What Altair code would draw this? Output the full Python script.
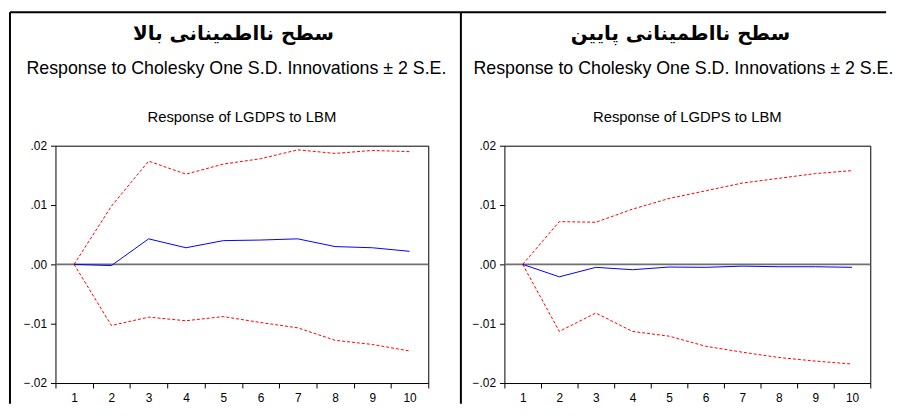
import altair as alt
import pandas as pd

horizons = list(range(1, 11))
y_ticks = [-0.02, -0.01, 0.0, 0.01, 0.02]

title_high = "سطح نااطمینانی بالا"
title_low = "سطح نااطمینانی پایین"
subtitle = "Response to Cholesky One S.D. Innovations ± 2 S.E."
chart_title = "Response of LGDPS to LBM"

high_resp = [0.0, -0.0002, 0.0043, 0.0028, 0.0040, 0.0041, 0.0043, 0.0030, 0.0028, 0.0022]
high_upper = [0.0, 0.0098, 0.0174, 0.0152, 0.0169, 0.0178, 0.0193, 0.0187, 0.0192, 0.0190]
high_lower = [0.0, -0.0103, -0.0089, -0.0095, -0.0088, -0.0098, -0.0107, -0.0128, -0.0135, -0.0146]

low_resp = [0.0, -0.0021, -0.0005, -0.0009, -0.00045, -0.0005, -0.0003, -0.0004, -0.0004, -0.0005]
low_upper = [0.0, 0.0072, 0.0071, 0.0093, 0.0111, 0.0124, 0.0137, 0.0145, 0.0153, 0.0158]
low_lower = [0.0, -0.0113, -0.0082, -0.0113, -0.0121, -0.0138, -0.0148, -0.0157, -0.0163, -0.0168]

FONT = "Liberation Sans, Arial, sans-serif"
FA_FONT = "DejaVu Sans"
H = 240


def panel(resp, upper, lower, fa_title, width, frame_left, top_end, head_x, ctitle_x):
    df_resp = pd.DataFrame({"h": horizons, "v": resp})
    df_band = pd.DataFrame({
        "h": horizons + horizons,
        "v": upper + lower,
        "s": ["upper"] * 10 + ["lower"] * 10,
    })
    one = pd.DataFrame({"k": [0]})

    x = alt.X(
        "h:O",
        scale=alt.Scale(type="band", paddingInner=0, paddingOuter=0),
        bandPosition=0.5,
        axis=alt.Axis(
            title=None, labelAngle=0, tickBand="extent", domain=False, grid=False,
            tickSize=5, tickColor="black", labelColor="black", labelFont=FONT,
            labelFontSize=12, labelPadding=5,
        ),
    )
    y = alt.Y(
        "v:Q",
        scale=alt.Scale(domain=[-0.02, 0.02], nice=False, zero=False),
        axis=alt.Axis(
            title=None, values=y_ticks, domain=False, grid=False, tickSize=5,
            tickColor="black", labelColor="black", labelFont=FONT, labelFontSize=12,
            labelPadding=4,
            labelExpr="replace(format(datum.value, '.2f'), '0.', '.')",
        ),
    )

    zero = alt.Chart(one).mark_rule(color="#707070", strokeWidth=1.6).encode(y=alt.Y(datum=0))
    band = alt.Chart(df_band).mark_line(color="#ff0000", strokeWidth=1, strokeDash=[3, 2]).encode(
        x=x, y=y, detail="s:N"
    )
    line = alt.Chart(df_resp).mark_line(color="#0000ff", strokeWidth=1).encode(x=x, y=y)

    frame_v = alt.Chart(one).mark_rule(color="black", strokeWidth=2).encode(
        x=alt.value(frame_left), y=alt.value(-135), y2=alt.value(261)
    )
    frame_h = alt.Chart(one).mark_rule(color="black", strokeWidth=2).encode(
        x=alt.value(frame_left), x2=alt.value(top_end), y=alt.value(-135)
    )
    t1 = alt.Chart(one).mark_text(
        font=FA_FONT, fontSize=20, fontWeight="bold", color="black", baseline="middle", align="center"
    ).encode(x=alt.value(head_x), y=alt.value(-113), text=alt.value(fa_title))
    t2 = alt.Chart(one).mark_text(
        font=FONT, fontSize=18, color="black", baseline="alphabetic", align="center"
    ).encode(x=alt.value(head_x + 3), y=alt.value(-73), text=alt.value(subtitle))
    t3 = alt.Chart(one).mark_text(
        font=FONT, fontSize=15, color="black", baseline="middle", align="center"
    ).encode(x=alt.value(ctitle_x), y=alt.value(-29), text=alt.value(chart_title))

    return alt.layer(zero, band, line, frame_v, frame_h, t1, t2, t3).properties(
        width=width, height=H
    )


left = panel(high_resp, high_upper, high_lower, title_high, 377, -46, 410, 180, 188.5)
right = panel(low_resp, low_upper, low_lower, title_low, 370, -44, 386, 178, 185)

chart = alt.hconcat(left, right, spacing=77, bounds="flush").properties(
    padding=0
).configure_view(stroke="black", strokeWidth=1)

chart.save("out.html", embed_options={"renderer": "svg", "actions": False})
